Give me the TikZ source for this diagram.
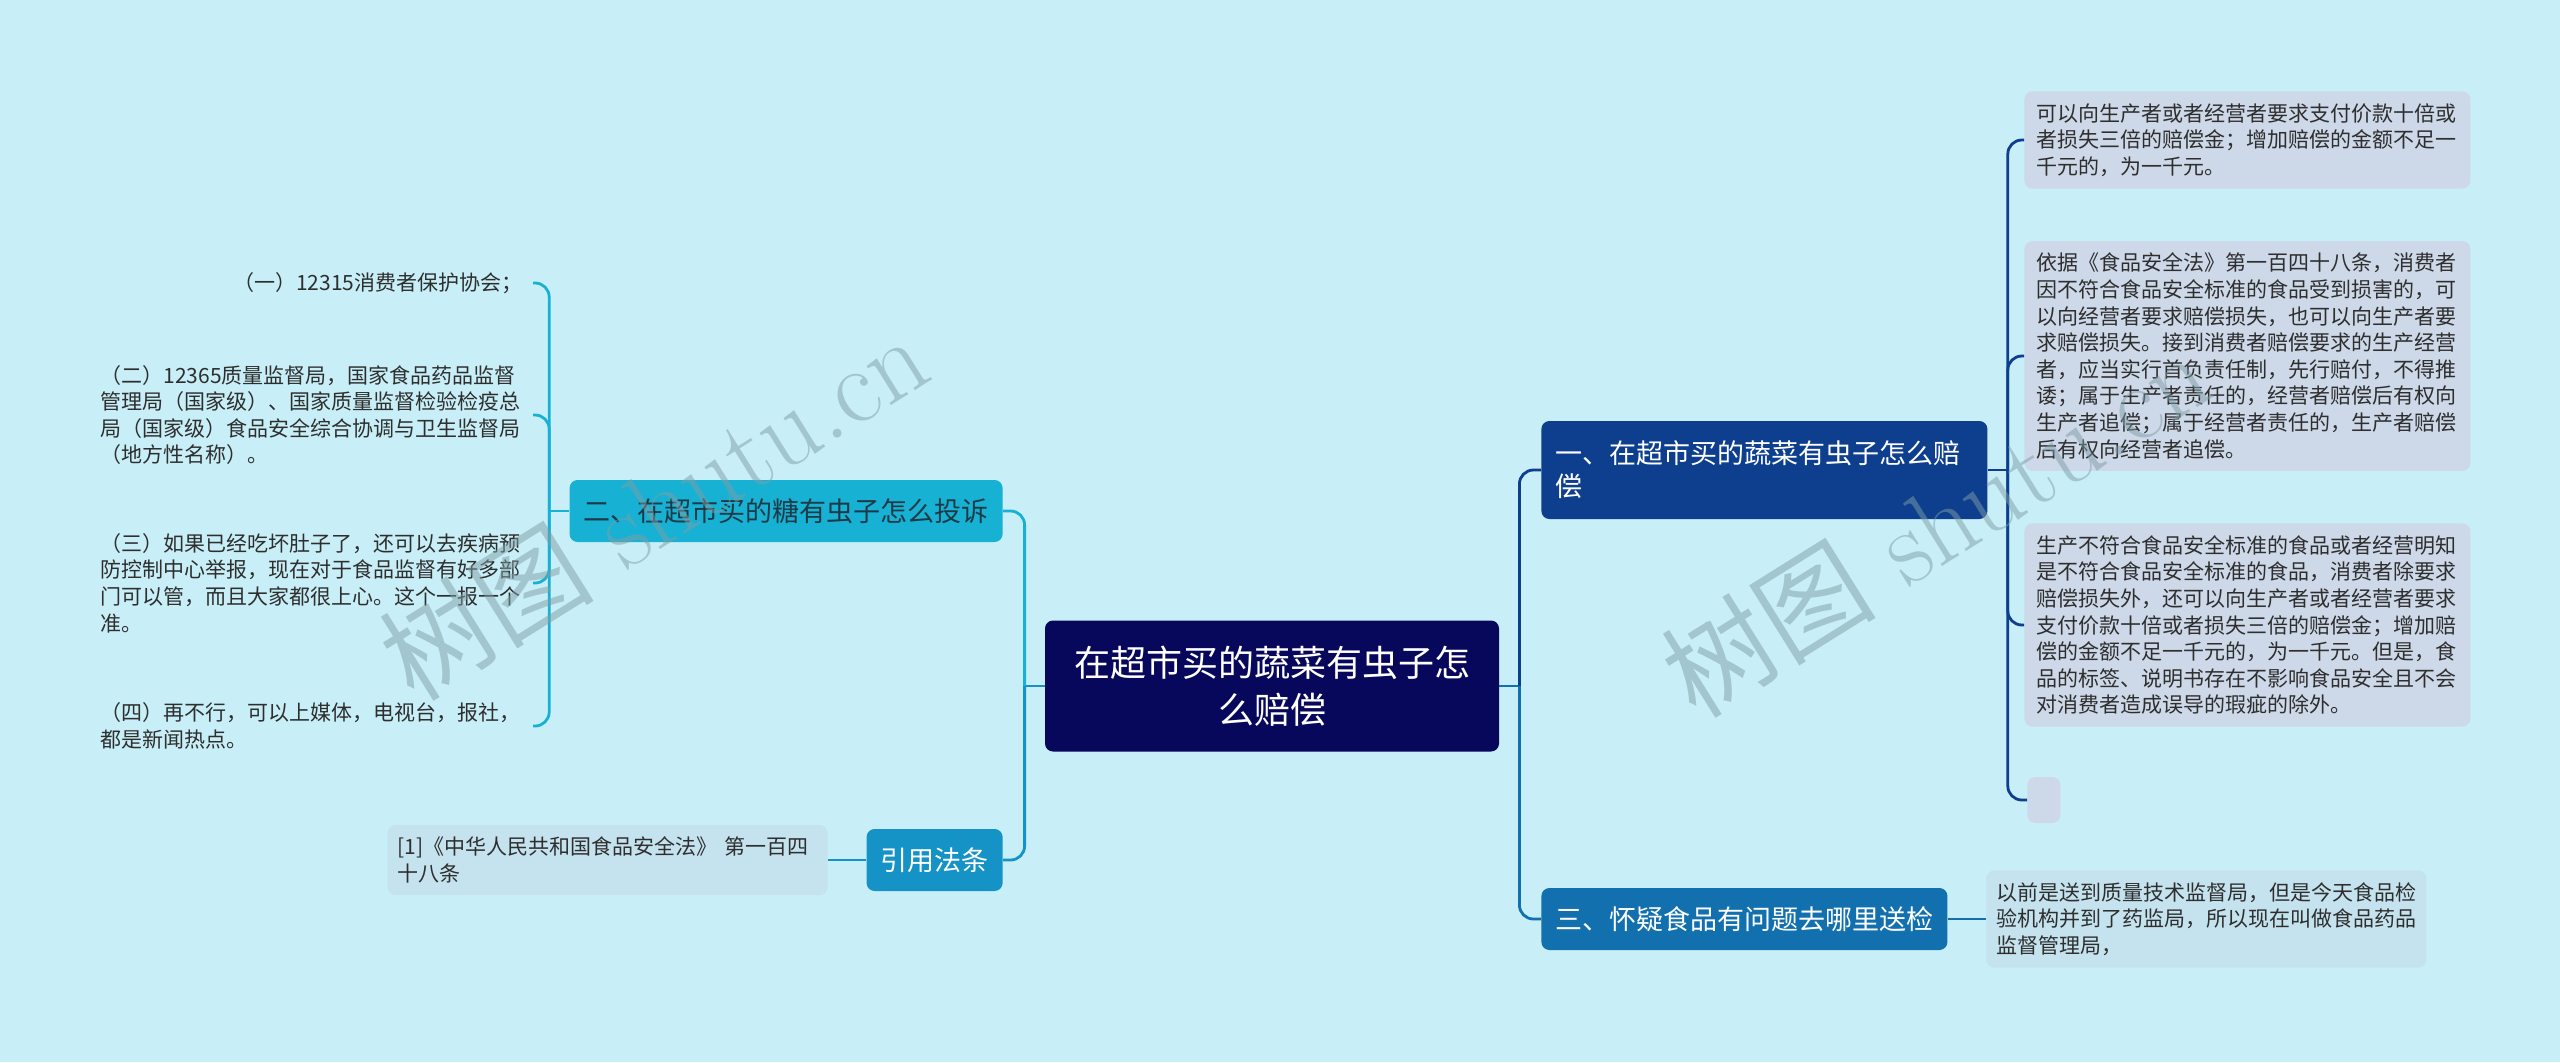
\documentclass[tikz,border=0pt]{standalone}
\usepackage{fontspec}
\usepackage{xcolor}
\usepackage{tikz}
\newfontfamily\cjk{Noto Sans CJK SC}

\definecolor{bgcyan}{HTML}{C8EFF7}
\definecolor{rootnavy}{HTML}{07075C}
\definecolor{onenavy}{HTML}{0D3F8E}
\definecolor{threeblue}{HTML}{1270AE}
\definecolor{twocyan}{HTML}{17B1D3}
\definecolor{citeblue}{HTML}{1592C6}
\definecolor{leafgray}{HTML}{CDD8E8}
\definecolor{leaflight}{HTML}{C5E3EE}
\definecolor{inktext}{HTML}{2E2E2E}
\definecolor{twoink}{HTML}{1E3A48}
\definecolor{wmark}{HTML}{7F9EA6}

\begin{document}
\begin{tikzpicture}[x=0.5pt, y=-0.5pt,
  rootbox/.style={fill=rootnavy, text=white, rounded corners=4pt,
    minimum width=227pt, minimum height=65.5pt, inner sep=0pt,
    align=center, font=\cjk\fontsize{18}{23.5}\selectfont},
  mainbox/.style={text=white, rounded corners=4pt, inner xsep=7pt, inner ysep=0pt,
    minimum height=31pt, font=\cjk\fontsize{13.5}{16.5}\selectfont},
  leafbox/.style={fill=leafgray, text=inktext, rounded corners=4pt,
    text width=211pt, align=left, inner xsep=6pt, inner ysep=6pt,
    font=\cjk\fontsize{10.5}{13.3}\selectfont, anchor=west},
  emptyleaf/.style={fill=leafgray, rounded corners=4pt, inner sep=0pt,
    minimum width=16.5pt, minimum height=23pt, anchor=west},
  sideleaf/.style={text=inktext, inner xsep=5pt, inner ysep=4pt, anchor=east,
    font=\cjk\fontsize{10.5}{13.3}\selectfont},
  conn/.style={line width=1.4pt, rounded corners=7pt},
  wmtext/.style={text=wmark, opacity=0.5, rotate=32,
    font=\fontsize{54}{60}\selectfont},
]

% ── canvas ───────────────────────────────────────────────────────────────────
\fill[bgcyan] (0,0) rectangle (2560,1062);
\useasboundingbox (0,0) rectangle (2560,1062);

% ── root ─────────────────────────────────────────────────────────────────────
\node[rootbox] (root) at (1272,686) {在超市买的蔬菜有虫子怎\\么赔偿};

% ── right branches ───────────────────────────────────────────────────────────
\node[mainbox, fill=onenavy, minimum height=49pt, text width=209pt, align=left, anchor=west]
  (one) at (1541,470) {一、在超市买的蔬菜有虫子怎么赔\\偿};
\node[mainbox, fill=threeblue, anchor=west] (three) at (1541,919) {三、怀疑食品有问题去哪里送检};

\node[leafbox] (a1) at (2024,140)
  {可以向生产者或者经营者要求支付价款十倍或\\者损失三倍的赔偿金；增加赔偿的金额不足一\\千元的，为一千元。};
\node[leafbox] (a2) at (2024,356)
  {依据《食品安全法》第一百四十八条，消费者\\因不符合食品安全标准的食品受到损害的，可\\以向经营者要求赔偿损失，也可以向生产者要\\求赔偿损失。接到消费者赔偿要求的生产经营\\者，应当实行首负责任制，先行赔付，不得推\\诿；属于生产者责任的，经营者赔偿后有权向\\生产者追偿；属于经营者责任的，生产者赔偿\\后有权向经营者追偿。};
\node[leafbox] (a3) at (2024,625)
  {生产不符合食品安全标准的食品或者经营明知\\是不符合食品安全标准的食品，消费者除要求\\赔偿损失外，还可以向生产者或者经营者要求\\支付价款十倍或者损失三倍的赔偿金；增加赔\\偿的金额不足一千元的，为一千元。但是，食\\品的标签、说明书存在不影响食品安全且不会\\对消费者造成误导的瑕疵的除外。};
\node[emptyleaf] (a4) at (2027,800) {};

\node[leafbox, fill=leaflight, text width=210pt, inner xsep=5pt] (c1) at (1986,919)
  {以前是送到质量技术监督局，但是今天食品检\\验机构并到了药监局，所以现在叫做食品药品\\监督管理局，};

% ── left branches ────────────────────────────────────────────────────────────
\node[mainbox, fill=twocyan, text=twoink, anchor=east] (two) at (1003,511) {二、在超市买的糖有虫子怎么投诉};
\node[mainbox, fill=citeblue, anchor=east] (cite) at (1003,860) {引用法条};

\node[sideleaf] (b1) at (533,283) {（一）12315消费者保护协会；};
\node[sideleaf, text width=211pt, align=left] (b2) at (533,415)
  {（二）12365质量监督局，国家食品药品监督\\管理局（国家级）、国家质量监督检验检疫总\\局（国家级）食品安全综合协调与卫生监督局\\（地方性名称）。};
\node[sideleaf, text width=211pt, align=left] (b3) at (533,583)
  {（三）如果已经吃坏肚子了，还可以去疾病预\\防控制中心举报，现在对于食品监督有好多部\\门可以管，而且大家都很上心。这个一报一个\\准。};
\node[sideleaf, text width=211pt, align=left] (b4) at (533,726)
  {（四）再不行，可以上媒体，电视台，报社，\\都是新闻热点。};

\node[leafbox, fill=leaflight, text width=210pt, inner xsep=5pt, anchor=east] (r1) at (828,860)
  {[1]《中华人民共和国食品安全法》 第一百四\\十八条};

% ── connectors ───────────────────────────────────────────────────────────────
\coordinate (rootR) at ([xshift=10pt]root.east);
\coordinate (rootL) at ([xshift=-10pt]root.west);
\draw[conn, threeblue] (root.east) -- (rootR);
\draw[conn, onenavy] (rootR) |- (one.west);
\draw[conn, threeblue] (rootR) |- (three.west);
\draw[conn, citeblue] (root.west) -- (rootL);
\draw[conn, twocyan] (rootL) |- (two.east);
\draw[conn, citeblue] (rootL) |- (cite.east);

\coordinate (oneR) at ([xshift=10pt]one.east);
\draw[conn, onenavy] (one.east) -- (oneR);
\foreach \leaf in {a1,a2,a3,a4}
  \draw[conn, onenavy] (oneR) |- (\leaf.west);

\coordinate (twoL) at ([xshift=-10pt]two.west);
\draw[conn, twocyan] (two.west) -- (twoL);
\foreach \leaf in {b1,b2,b3,b4}
  \draw[conn, twocyan] (twoL) |- (\leaf.east);

\draw[conn, threeblue] (three.east) -- (c1.west);
\draw[conn, citeblue] (cite.west) -- (r1.east);

% ── watermark ────────────────────────────────────────────────────────────────
\node[wmtext] (wm1) at (653,506) {{\cjk 树图} shutu.cn};
\node[wmtext] (wm2) at (1935,523) {{\cjk 树图} shutu.cn};

\end{tikzpicture}
\end{document}
